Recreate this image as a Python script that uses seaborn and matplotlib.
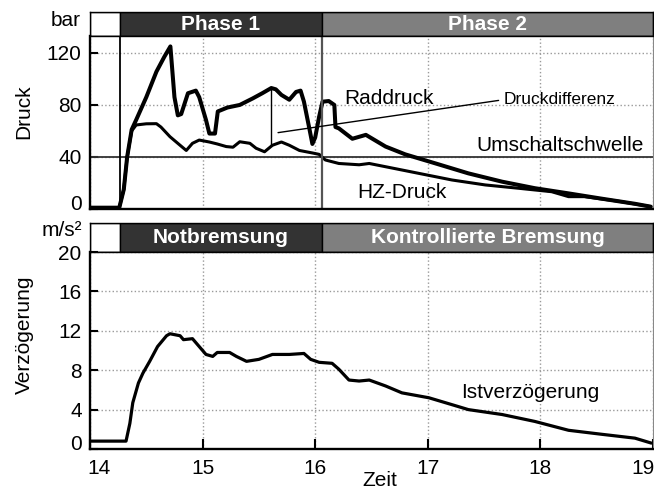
import numpy as np
import pandas as pd
import matplotlib
matplotlib.use("Agg")
import matplotlib.pyplot as plt
import matplotlib.transforms as mtransforms
import seaborn as sns

# ---------------- data ----------------
# wheel pressure (Raddruck), bar
rad_t = [14.0, 14.26, 14.28, 14.30, 14.33, 14.37, 14.41, 14.50, 14.59, 14.66,
         14.714, 14.75, 14.78, 14.81, 14.87, 14.94, 14.97, 15.03, 15.06, 15.11,
         15.135, 15.22, 15.33, 15.445, 15.53, 15.61, 15.65, 15.70, 15.77, 15.83,
         15.87, 15.90, 15.95, 15.975, 16.0, 16.035, 16.065, 16.12, 16.17, 16.18,
         16.21, 16.33, 16.45, 16.625, 16.80, 17.07, 17.36, 17.66, 17.95, 18.25,
         18.54, 18.84, 18.98]
rad_p = [1, 1, 8, 15, 40, 61, 68.5, 86, 105.6, 117,
         125, 86, 72, 73, 89, 91, 86, 68.5, 58, 58,
         75, 78, 80, 85, 89, 93, 92, 87.7, 84, 90,
         91, 82.5, 61, 50, 55, 71, 82.5, 83, 80, 63,
         62, 54, 57, 48, 42, 35, 27.4, 21, 16, 12,
         8, 4, 1.8]

# master cylinder pressure (HZ-Druck), bar
hz_t = [14.0, 14.26, 14.28, 14.30, 14.33, 14.37, 14.41, 14.50, 14.59, 14.63,
        14.71, 14.80, 14.855, 14.91, 14.97, 15.06, 15.13, 15.21, 15.27, 15.33,
        15.42, 15.475, 15.55, 15.62, 15.70, 15.77, 15.86, 15.98, 16.035, 16.09,
        16.21, 16.39, 16.48, 16.625, 16.92, 17.215, 17.51, 17.80, 18.10, 18.25,
        18.39, 18.69, 18.98]
hz_p = [1, 1, 8, 15, 40, 60, 64.6, 65.5, 65.6, 63,
        55.6, 49, 45, 50.5, 53, 51.5, 50, 48, 47.5, 51.7,
        50.5, 46.7, 44, 49, 51.5, 49, 45, 43, 42, 37.7,
        35, 34, 35, 32.5, 27.4, 22.3, 18.5, 16, 13.3, 9.5,
        9.5, 6, 1.8]

# vehicle deceleration (Istverzögerung), m/s²
v_t = [14.0, 14.32, 14.354, 14.38, 14.43, 14.47, 14.53, 14.60, 14.68, 14.71,
       14.80, 14.83, 14.91, 14.97, 15.03, 15.09, 15.13, 15.24, 15.30, 15.39,
       15.50, 15.62, 15.77, 15.90, 15.96, 16.035, 16.15, 16.21, 16.30, 16.39,
       16.48, 16.625, 16.77, 17.01, 17.215, 17.36, 17.66, 17.95, 18.25, 18.54,
       18.84, 18.985]
v_a = [0.8, 0.8, 2.6, 4.7, 6.7, 7.7, 8.9, 10.4, 11.5, 11.7,
       11.5, 11.1, 11.2, 10.4, 9.6, 9.4, 9.8, 9.8, 9.4, 8.9,
       9.1, 9.6, 9.6, 9.7, 9.1, 8.8, 8.7, 8.1, 7.0, 6.9,
       7.0, 6.4, 5.7, 5.2, 4.5, 4.0, 3.5, 2.8, 1.9, 1.5,
       1.1, 0.6]

phase_edges = [14.0, 14.265, 16.06, 19.0]
top_phases = ["", "Phase 1", "Phase 2"]
bottom_phases = ["", "Notbremsung", "Kontrollierte Bremsung"]
phase_colors = ["white", "#333333", "#7f7f7f"]
threshold = 40
diff_t = 15.61
x_ticks = [14, 15, 16, 17, 18, 19]
p_ticks = [0, 40, 80, 120]
a_ticks = [0, 4, 8, 12, 16, 20]

# ---------------- style ----------------
sns.set_theme(style="white")
plt.rcParams["font.family"] = ["Liberation Sans", "DejaVu Sans"]
plt.rcParams["font.size"] = 15
for key in ("text.color", "axes.labelcolor", "xtick.color", "ytick.color"):
    plt.rcParams[key] = "black"

W, H = 654, 488
fig = plt.figure(figsize=(W / 100, H / 100), dpi=100)


def box(x0, y0, x1, y1):
    """Axes rectangle from pixel edges measured from the top-left corner."""
    return [x0 / W, 1 - y1 / H, (x1 - x0) / W, (y1 - y0) / H]


ax_h1 = fig.add_axes(box(90, 12, 653, 36))
ax_p = fig.add_axes(box(90, 36, 653, 209))
ax_h2 = fig.add_axes(box(90, 223, 653, 252))
ax_a = fig.add_axes(box(90, 252, 653, 449))


def draw_header(ax, labels):
    ax.set_xlim(phase_edges[0], phase_edges[-1])
    ax.set_ylim(0, 1)
    for x0, x1, lab, col in zip(phase_edges[:-1], phase_edges[1:], labels, phase_colors):
        ax.axvspan(x0, x1, facecolor=col, edgecolor="black", linewidth=1.0)
        if lab:
            ax.text((x0 + x1) / 2, 0.5, lab, ha="center", va="center",
                    color="white", fontweight="bold", fontsize=15)
    ax.set_xticks([])
    ax.set_yticks([])
    for s in ax.spines.values():
        s.set_linewidth(1.0)
        s.set_color("black")


draw_header(ax_h1, top_phases)
draw_header(ax_h2, bottom_phases)


def style_panel(ax):
    ax.set_xlim(phase_edges[0], phase_edges[-1])
    ax.set_axisbelow(True)
    ax.grid(True, linestyle=":", color="#9a9a9a", linewidth=1.0)
    for side in ("left", "bottom"):
        ax.spines[side].set_linewidth(1.7)
        ax.spines[side].set_color("black")
    ax.spines["top"].set_linewidth(1.0)
    ax.spines["top"].set_color("black")
    ax.spines["right"].set_linewidth(0.8)
    ax.spines["right"].set_color("#888888")
    ax.set_xticks(x_ticks)
    ax.tick_params(axis="y", direction="in", length=6, width=1.5,
                   pad=6, labelsize=15, colors="black", left=True)
    ax.set_xlabel("")


# ---------------- pressure panel ----------------
df_rad = pd.DataFrame({"Zeit": rad_t, "Druck": rad_p})
df_hz = pd.DataFrame({"Zeit": hz_t, "Druck": hz_p})
sns.lineplot(data=df_rad, x="Zeit", y="Druck", ax=ax_p, color="black",
             linewidth=2.9, sort=False, estimator=None)
sns.lineplot(data=df_hz, x="Zeit", y="Druck", ax=ax_p, color="black",
             linewidth=2.2, sort=False, estimator=None)
style_panel(ax_p)
ax_p.set_ylim(0, 133)
ax_p.set_yticks(p_ticks)
ax_p.tick_params(axis="x", length=0, labelbottom=False)

ax_p.axhline(threshold, color="#333333", linewidth=1.3, zorder=1.5)
ax_p.axvline(phase_edges[1], color="black", linewidth=1.3)
ax_p.axvline(phase_edges[2], color="#555555", linewidth=1.6)

r_at = np.interp(diff_t, rad_t, rad_p)
h_at = np.interp(diff_t, hz_t, hz_p)
ax_p.vlines(diff_t, h_at, r_at, color="black", linewidth=1.0)
ax_p.annotate("Druckdifferenz", xy=(diff_t + 0.06, 58.7), xytext=(17.67, 84),
              fontsize=12.5, ha="left", va="center",
              arrowprops=dict(arrowstyle="-", color="black", linewidth=1.0,
                              relpos=(0, 0.5), shrinkA=1, shrinkB=0))
ax_p.text(16.26, 84.6, "Raddruck", ha="left", va="center", fontsize=15)
ax_p.text(17.43, 49, "Umschaltschwelle", ha="left", va="center", fontsize=15)
ax_p.text(16.37, 13, "HZ-Druck", ha="left", va="center", fontsize=15)
ax_p.set_ylabel("Druck", fontsize=15, va="center")
ax_p.yaxis.set_label_coords((24 - 90) / 563, (209 - 112) / 173)

# ---------------- deceleration panel ----------------
df_v = pd.DataFrame({"Zeit": v_t, "Verzögerung": v_a})
sns.lineplot(data=df_v, x="Zeit", y="Verzögerung", ax=ax_a, color="black",
             linewidth=2.3, sort=False, estimator=None)
style_panel(ax_a)
ax_a.set_ylim(0, 20)
ax_a.set_yticks(a_ticks)
ax_a.tick_params(axis="x", direction="in", length=7, width=1.5, pad=7,
                 labelsize=15, colors="black", bottom=True)
ax_a.text(17.30, 5.7, "Istverzögerung", ha="left", va="center", fontsize=15)
ax_a.set_ylabel("Verzögerung", fontsize=15, va="center")
ax_a.yaxis.set_label_coords((24 - 90) / 563, (449 - 335) / 197)

# unit labels and time axis title
fig.text(81 / W, 1 - 20 / H, "bar", ha="right", va="center", fontsize=15)
fig.text(82 / W, 1 - 231 / H, "m/s²", ha="right", va="center", fontsize=15)
fig.text(380 / W, 1 - 480 / H, "Zeit", ha="center", va="center", fontsize=15)

# keep the outer tick labels inside the frame
px = 1 / 100.0
for ax in (ax_p, ax_a):
    lab = ax.get_yticklabels()[0]
    lab.set_transform(lab.get_transform() +
                      mtransforms.ScaledTranslation(0, 7 * px, fig.dpi_scale_trans))
xl = ax_a.get_xticklabels()
xl[0].set_transform(xl[0].get_transform() +
                    mtransforms.ScaledTranslation(9 * px, 0, fig.dpi_scale_trans))
xl[-1].set_transform(xl[-1].get_transform() +
                     mtransforms.ScaledTranslation(-10 * px, 0, fig.dpi_scale_trans))

fig.savefig("out.png", dpi=100)
